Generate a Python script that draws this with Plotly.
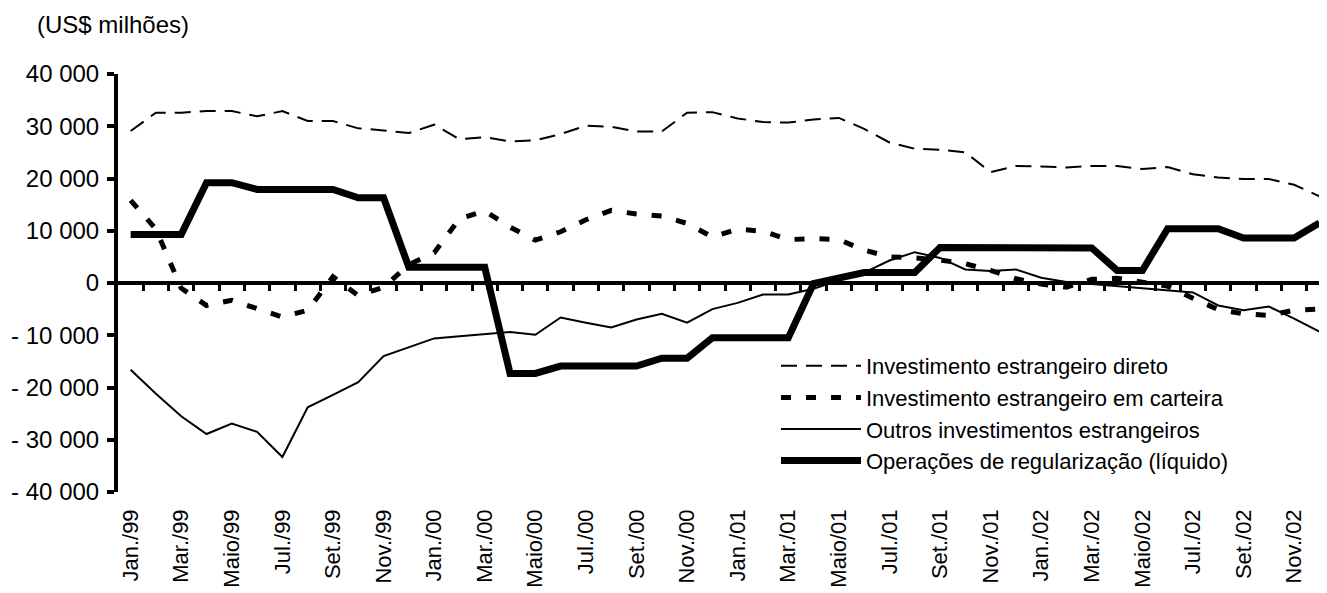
import plotly.graph_objects as go

# ---- data ----
month_names = ["Jan.", "Fev.", "Mar.", "Abr.", "Maio", "Jun.", "Jul.", "Ago.", "Set.", "Out.", "Nov.", "Dez."]
years = ["99", "00", "01", "02"]
categories = [f"{m}/{y}" for y in years for m in month_names]

tick_labels = ["Jan./99", "Mar./99", "Maio/99", "Jul./99", "Set./99", "Nov./99",
               "Jan./00", "Mar./00", "Maio/00", "Jul./00", "Set./00", "Nov./00",
               "Jan./01", "Mar./01", "Maio/01", "Jul./01", "Set./01", "Nov./01",
               "Jan./02", "Mar./02", "Maio/02", "Jul./02", "Set./02", "Nov./02"]

ied = [29100, 32600, 32600, 32900, 32900, 31900, 32900, 31000, 31000, 29600, 29200, 28700,
       30300, 27500, 27900, 27100, 27300, 28500, 30100, 29900, 29000, 29000, 32600, 32700,
       31500, 30800, 30700, 31300, 31600, 29500, 26900, 25700, 25500, 25000, 21200, 22400,
       22300, 22100, 22400, 22400, 21800, 22200, 20800, 20200, 19900, 19900, 18800, 16600]

iec = [15800, 10300, -1000, -4300, -3300, -4800, -6500, -5200, 1200, -2400, -800, 3500,
       5800, 12300, 13800, 10700, 8200, 9800, 12100, 13900, 13200, 12800, 11400, 8800,
       10300, 9900, 8300, 8500, 8300, 6300, 5000, 4800, 4400, 3700, 2400, 800,
       -200, -800, 700, 900, 200, -600, -2900, -5100, -5900, -6200, -5200, -5000]

outros = [-16600, -21200, -25500, -28900, -26900, -28500, -33300, -23800, -21400, -19000, -14000, -12300,
          -10600, -10200, -9800, -9400, -9900, -6600, -7600, -8500, -7000, -5900, -7600, -5000,
          -3800, -2200, -2200, -1100, 500, 2000, 4300, 5900, 4800, 2600, 2300, 2600,
          1000, 200, -200, -600, -900, -1400, -1800, -4300, -5200, -4500, -6800, -9300]

regul = [9300, 9300, 9300, 19200, 19200, 17900, 17900, 17900, 17900, 16300, 16300, 3000,
         3000, 3000, 3000, -17300, -17300, -15900, -15900, -15900, -15900, -14400, -14400, -10500,
         -10500, -10500, -10500, -100, 900, 2000, 2000, 2000, 6800, 6800, 6800, 6800,
         6800, 6800, 6700, 2400, 2400, 10400, 10400, 10400, 8600, 8600, 8600, 11500]

series_names = ["Investimento estrangeiro direto",
                "Investimento estrangeiro em carteira",
                "Outros investimentos estrangeiros",
                "Operações de regularização (líquido)"]

y_ticks = [40000, 30000, 20000, 10000, 0, -10000, -20000, -30000, -40000]
y_tick_text = ["40 000", "30 000", "20 000", "10 000", "0",
               "- 10 000", "- 20 000", "- 30 000", "- 40 000"]

# ---- figure ----
x = list(range(len(categories)))
FONT = "Arial, Liberation Sans, sans-serif"

# the page body has an 8px margin, so the figure is sized to fit the window
W, H = 1319, 585

fig = go.Figure()
fig.add_trace(go.Scatter(x=x, y=ied, mode="lines", name=series_names[0], customdata=categories,
                         line=dict(color="black", width=2, dash="16px,9px")))
fig.add_trace(go.Scatter(x=x, y=iec, mode="lines", name=series_names[1], customdata=categories,
                         line=dict(color="black", width=5, dash="10px,15px")))
fig.add_trace(go.Scatter(x=x, y=outros, mode="lines", name=series_names[2], customdata=categories,
                         line=dict(color="black", width=2)))
fig.add_trace(go.Scatter(x=x, y=regul, mode="lines", name=series_names[3], customdata=categories,
                         line=dict(color="black", width=7)))
# invisible trace that carries the category axis drawn along y = 0
fig.add_trace(go.Scatter(x=x, y=regul, xaxis="x2", mode="lines", showlegend=False,
                         hoverinfo="skip", opacity=0, line=dict(width=0)))

xr = [-0.5, 47.3]
ml, mt, mb = 110, 66, 101
plot_h = H - mt - mb
plot_w = W - ml
fig.update_layout(
    template="none",
    width=W, height=H, autosize=False,
    margin=dict(l=ml, r=0, t=mt, b=mb, pad=0, autoexpand=False),
    paper_bgcolor="white", plot_bgcolor="white",
    font=dict(family=FONT, size=22, color="black"),
    title=dict(text="(US$ milhões)", x=29 / W, xanchor="left", y=1 - 17 / H, yanchor="middle",
               font=dict(family=FONT, size=24, color="black")),
    xaxis=dict(range=xr, tickvals=x[::2], ticktext=tick_labels, tickangle=-90,
               showline=False, ticks="", showgrid=False, zeroline=False, automargin=False,
               ticklabelstandoff=12,
               tickfont=dict(family=FONT, size=22, color="black")),
    xaxis2=dict(range=xr, overlaying="x", anchor="free", position=0.5, side="bottom",
                showline=True, linewidth=4, linecolor="black",
                ticks="outside", ticklen=6, tickwidth=3, tickcolor="black",
                tickvals=[i + 0.5 for i in x[:-1]], showticklabels=False,
                showgrid=False, zeroline=False, automargin=False),
    yaxis=dict(range=[-40000, 40000], tickvals=y_ticks, ticktext=y_tick_text,
               showline=True, linewidth=4, linecolor="black",
               ticks="outside", ticklen=7, tickwidth=4, tickcolor="black",
               showgrid=False, zeroline=False, automargin=False, ticklabelstandoff=3,
               tickfont=dict(family=FONT, size=24, color="black")),
    legend=dict(x=(768 - 110) / plot_w, xanchor="left", y=1 - (337 - 66) / plot_h, yanchor="top",
                bgcolor="rgba(0,0,0,0)", font=dict(family=FONT, size=22, color="black"),
                itemwidth=80, tracegroupgap=0),
    showlegend=True,
)

fig.write_html("out.html")
